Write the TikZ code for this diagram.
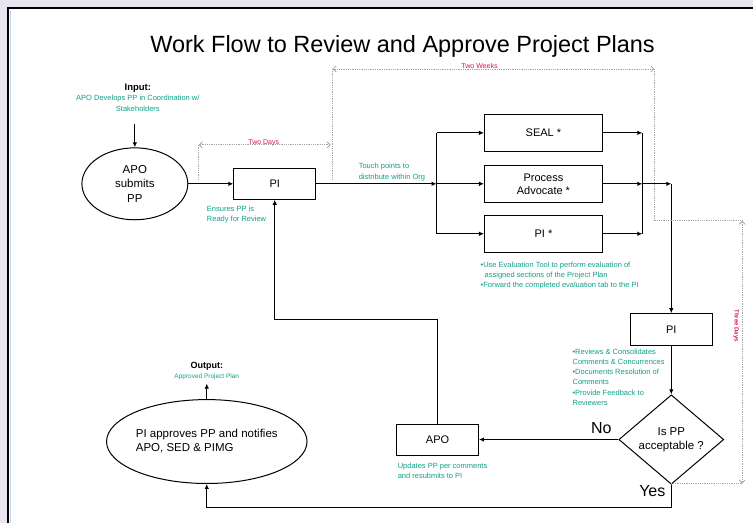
\documentclass[tikz,border=0pt]{standalone}
\usepackage{fontspec}
\setmainfont{Liberation Sans}
\usetikzlibrary{arrows.meta,positioning,shapes.geometric,calc}
\definecolor{FlowGreen}{HTML}{10A088}
\definecolor{FlowRed}{HTML}{E0144C}
\definecolor{FlowGrey}{HTML}{A5A5A5}
\definecolor{FlowBack}{HTML}{E8E5F1}
\definecolor{FlowEdge}{HTML}{BFD6EA}

\begin{document}
\begin{tikzpicture}[x=1pt,y=-1pt,box/.style={draw,line width=1pt,minimum width=82pt,minimum height=31pt,inner sep=0pt,align=center,font=\fontsize{11}{13}\selectfont},wide/.style={box,minimum width=118pt,minimum height=37pt},blob/.style={draw,line width=1pt,ellipse,inner sep=0pt,font=\fontsize{11.5}{14}\selectfont},note/.style={text=FlowGreen,inner sep=0pt,font=\fontsize{7.5}{10.2}\selectfont},head/.style={inner sep=0pt,font=\bfseries\fontsize{9.5}{11}\selectfont},answer/.style={inner sep=0pt,font=\fontsize{16}{18}\selectfont},timing/.style={text=FlowRed,inner sep=0pt,font=\fontsize{7}{8}\selectfont},arrow/.style={-{Latex[length=5pt,width=4.5pt]},line width=1.1pt},line/.style={line width=1.1pt},span/.style={{Straight Barb[length=3pt,width=6pt]}-{Straight Barb[length=3pt,width=6pt]},FlowGrey,densely dotted,line width=0.8pt},guide/.style={FlowGrey,densely dotted,line width=0.8pt}]
  % page and frame
  \fill[FlowBack] (0,0) rectangle (754,524);
  \fill[white] (8,8) rectangle (754,524);
  \draw[FlowEdge,line width=1pt] (10.5,524) -- (10.5,10);
  \draw[line width=1.6pt] (8,524) -- (8,8) -- (754,8);
  \useasboundingbox (0,0) rectangle (754,524);

  \node[font=\fontsize{23.5}{28}\selectfont] (title) at (403,46) {Work Flow to Review and Approve Project Plans};

  % input side
  \node[head] (input) at (138,88) {Input:};
  \node[note,align=center,below=3pt of input] (inputnote) {APO Develops PP in Coordination w/\\Stakeholders};
  \coordinate (inputtop) at (135,124);
  \node[blob,minimum width=106pt,minimum height=72pt,align=center,font=\fontsize{11.5}{14.5}\selectfont] (submit) at (135,184) {APO\\submits\\PP};
  \node[box] (pi) at (275,184) {PI};
  \node[note,align=left,anchor=north west] (ensure) at (207,206) {Ensures PP is\\Ready for Review};
  \draw[arrow] (inputtop)--(submit.north);
  \draw[arrow] (submit.east)--(pi.west);

  % reviewers
  \coordinate (split) at (437,184);
  \node[note,align=left,anchor=south west] (touch) at (359,181) {Touch points to\\distribute within Org};
  \node[wide] (seal) at (544,133) {SEAL *};
  \node[wide] (advocate) at (544,184) {Process\\Advocate *};
  \node[wide] (pistar) at (544,234) {PI *};
  \node[note,align=left,anchor=north west] (evalnote) at (481,262) {•Use Evaluation Tool to perform evaluation of\\\hspace*{4pt}assigned sections of the Project Plan\\•Forward the completed evaluation tab to the PI};
  \draw[arrow] (pi.east)--(split);
  \draw[line] (split |- seal)--(split |- pistar);
  \draw[arrow] (split |- seal)--(seal.west);
  \draw[arrow] (split)--(advocate.west);
  \draw[arrow] (split |- pistar)--(pistar.west);
  \coordinate (merge) at (643,184);
  \coordinate (bend) at (672,184);
  \draw[arrow] (seal.east)--(merge |- seal);
  \draw[arrow] (advocate.east)--(merge);
  \draw[arrow] (pistar.east)--(merge |- pistar);
  \draw[line] (merge |- seal)--(merge |- pistar);

  % consolidation and decision
  \node[box,minimum height=32pt] (review) at (672,330) {PI};
  \node[note,align=left,anchor=north west] (reviewnote) at (573,349) {•Reviews \& Consolidates\\Comments \& Concurrences\\•Documents Resolution of\\Comments\\•Provide Feedback to\\Reviewers};
  \draw[arrow] (merge)--(bend);
  \draw[arrow] (bend)--(review.north);
  \node[draw,diamond,line width=1pt,minimum width=105pt,minimum height=74pt,inner sep=0pt,align=center,font=\fontsize{11.5}{14}\selectfont] (accept) at (672,440) {Is PP\\acceptable ?};
  \draw[arrow] (review.south)--(accept.north);
  \node[box] (apo) at (438,440) {APO};
  \node[note,align=left,anchor=north west] (aponote) at (398,463) {Updates PP per comments\\and resubmits to PI};
  \node[answer] (no) at (602,429) {No};
  \node[answer] (yes) at (653,492) {Yes};
  \draw[arrow] (accept.west)--(apo.east);
  \coordinate (back) at (438,320);
  \draw[arrow] (apo.north)--(back)-|(pi.south);

  % output side
  \node[blob,minimum width=181pt,minimum height=84pt,align=left] (approve) at (207,442) {PI approves PP and notifies\\APO, SED \& PIMG};
  \coordinate (low) at (672,508);
  \draw[arrow] (accept.south)--(low)-|(approve.south);
  \coordinate (outtip) at (207,384);
  \draw[arrow] (approve.north)--(outtip);
  \node[note,font=\fontsize{6.5}{8}\selectfont] (outnote) at (207,377) {Approved Project Plan};
  \node[head,font=\bfseries\fontsize{9}{11}\selectfont] (output) at (207,367) {Output:};

  % timing marks
  \coordinate (weekL) at (333,69);
  \coordinate (weekR) at (655,69);
  \draw[span] (weekL)--(weekR);
  \draw[guide] (weekL)--++(0,110);
  \draw[guide] (weekR)--++(0,152)--++(88,0);
  \node[timing] (weeks) at (480,66) {Two Weeks};
  \coordinate (dayL) at (199,145);
  \coordinate (dayR) at (331,145);
  \draw[span] (dayL)--(dayR);
  \draw[guide] (dayL)--++(0,35);
  \node[timing] (days) at (264,143) {Two Days};
  \coordinate (threeT) at (743,221);
  \coordinate (threeB) at (743,484);
  \draw[span] (threeT)--(threeB);
  \draw[guide] (672,484)--(threeB);
  \node[timing,rotate=-90,font=\bfseries\fontsize{6}{7}\selectfont] (threedays) at (737,326) {Three Days};
\end{tikzpicture}
\end{document}
